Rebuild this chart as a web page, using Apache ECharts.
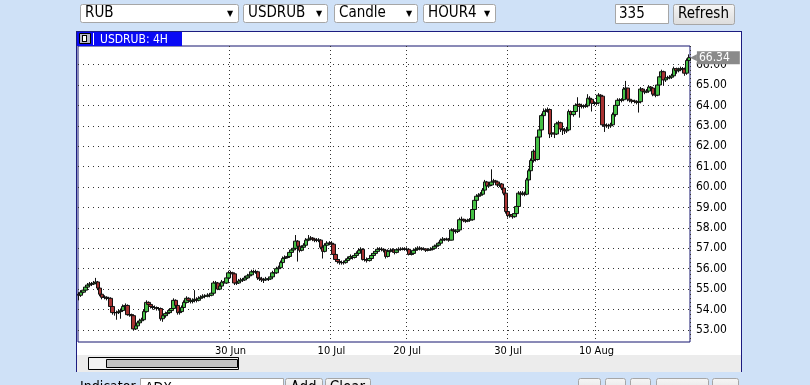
<!DOCTYPE html>
<html><head><meta charset="utf-8">
<script src="https://cdn.jsdelivr.net/npm/echarts@6/dist/echarts.min.js"></script>
<style>html,body{margin:0;padding:0;background:#cfe1f7;}#c{width:810px;height:385px;}</style>
</head><body><div id="c"></div>
<script>
// trading days (tick label texts)
const days = ['12 Jun','15 Jun','16 Jun','17 Jun','18 Jun','19 Jun','22 Jun','23 Jun','24 Jun','25 Jun','26 Jun','29 Jun',
  '30 Jun','1 Jul','2 Jul','3 Jul','6 Jul','7 Jul','8 Jul','9 Jul','10 Jul','13 Jul','14 Jul','15 Jul','16 Jul','17 Jul',
  '20 Jul','21 Jul','22 Jul','23 Jul','24 Jul','27 Jul','28 Jul','29 Jul','30 Jul','31 Jul','3 Aug','4 Aug','5 Aug','6 Aug','7 Aug',
  '10 Aug','11 Aug','12 Aug','13 Aug','14 Aug','17 Aug','18 Aug','19 Aug'];
const labeledDays = ['30 Jun','10 Jul','20 Jul','30 Jul','10 Aug'];
const yTicks = [53,54,55,56,57,58,59,60,61,62,63,64,65,66];
const firstOpen = 54.75;
const closes = [
54.70,54.85,54.95,55.10,55.20,55.25, 55.25,55.30,55.35,55.05,54.75,54.60, 54.60,54.55,54.55,54.15,53.85,53.85,
53.85,53.90,53.95,54.15,54.20,53.75, 53.75,53.70,53.05,53.20,53.35,53.45, 53.50,53.90,54.35,54.25,54.15,54.10,
54.10,54.05,54.05,53.55,53.70,53.80, 53.85,53.95,54.05,54.45,54.20,53.85, 53.90,54.10,54.35,54.55,54.45,54.40,
54.45,54.50,54.45,54.55,54.60,54.65, 54.65,54.70,54.70,54.80,55.30,55.30, 55.00,55.15,55.35,55.30,55.55,55.80,
55.80,55.75,55.30,55.30,55.40,55.45, 55.45,55.55,55.65,55.70,55.85,55.85, 55.85,55.55,55.50,55.45,55.45,55.50,
55.50,55.60,55.80,55.80,56.00,56.05, 56.30,56.50,56.55,56.60,56.80,56.92, 57.00,57.35,57.10,56.90,57.05,57.15,
57.40,57.45,57.50,57.45,57.40,57.40, 57.40,57.05,56.85,57.15,57.25,57.25, 57.20,56.70,56.45,56.35,56.30,56.30,
56.30,56.40,56.50,56.60,56.55,56.65, 56.75,56.90,56.95,56.45,56.45,56.40, 56.50,56.65,56.75,56.85,56.95,56.95,
56.95,56.90,56.60,56.85,56.90,56.92, 56.80,56.92,56.95,56.95,56.97,56.95, 56.95,56.70,56.75,56.90,56.95,57.00,
57.00,56.95,56.97,56.90,56.92,56.95, 57.00,57.10,57.15,57.25,57.40,57.45, 57.42,57.45,57.40,57.90,57.85,57.82,
57.90,58.40,58.42,58.35,58.33,58.38, 58.40,58.90,59.35,59.55,59.60,59.65, 59.85,60.25,60.05,60.10,60.25,60.30,
60.25,60.10,60.15,59.95,59.70,58.80, 58.60,58.65,58.55,58.70,59.05,59.70, 59.65,59.70,59.65,60.35,60.80,61.30,
61.75,61.35,62.45,62.80,63.50,63.70, 63.75,63.80,62.60,62.65,62.60,63.10, 63.15,62.85,62.80,62.75,62.80,63.70,
63.55,63.70,64.00,64.05,63.95,63.98, 63.95,63.98,64.35,64.30,64.10,64.10, 64.12,64.50,64.45,63.05,63.00,63.02,
63.00,63.05,63.55,64.00,64.25,64.25, 64.28,64.80,64.85,64.30,64.25,64.20, 64.20,64.15,64.18,64.80,64.70,64.65,
64.70,64.90,64.85,64.55,64.50,65.00, 65.40,65.65,65.25,65.35,65.35,65.38, 65.45,65.80,65.70,65.75,65.80,65.78,
65.58,66.20,66.34];
const highs = [
54.85,54.95,55.05,55.20,55.30,55.35, 55.35,55.40,55.55,55.40,55.10,54.85, 54.70,54.65,54.62,54.60,54.20,53.95,
53.95,54.00,54.05,54.25,54.30,54.25, 53.85,53.80,53.75,53.30,53.45,53.55, 53.60,54.00,54.45,54.40,54.30,54.20,
54.20,54.15,54.12,54.10,53.80,53.90, 53.95,54.05,54.15,54.55,54.50,54.25, 54.00,54.20,54.45,54.65,54.60,54.50,
54.55,54.95,54.60,54.65,54.70,54.75, 54.75,54.80,54.80,54.90,55.40,55.40, 55.35,55.25,55.45,55.40,55.65,55.90,
55.90,55.85,55.80,55.40,55.50,55.55, 55.55,55.65,55.75,55.80,55.95,55.95, 55.95,55.90,55.65,55.60,55.55,55.60,
55.60,55.70,55.90,55.90,56.10,56.15, 56.40,56.60,56.65,56.70,56.90,57.00, 57.10,57.65,57.40,57.15,57.15,57.25,
57.50,57.65,57.60,57.55,57.50,57.50, 57.50,57.45,57.10,57.25,57.35,57.35, 57.35,57.25,56.75,56.55,56.45,56.40,
56.40,56.50,56.60,56.70,56.65,56.75, 56.85,57.00,57.05,57.00,56.55,56.55, 56.60,56.75,56.85,56.95,57.05,57.05,
57.05,57.00,56.95,56.95,57.00,57.00, 56.95,57.00,57.05,57.05,57.05,57.05, 57.05,57.00,56.85,56.95,57.05,57.10,
57.10,57.05,57.05,57.00,57.00,57.05, 57.08,57.18,57.22,57.32,57.48,57.55, 57.50,57.52,57.50,57.98,57.95,57.92,
58.00,58.50,58.55,58.45,58.42,58.45, 58.48,59.00,59.45,59.65,59.70,59.75, 59.95,60.35,60.30,60.20,60.87,60.40,
60.35,60.30,60.25,60.20,60.00,59.75, 58.85,58.75,58.70,58.80,59.15,59.80, 59.80,59.80,59.78,60.45,60.90,61.40,
61.85,61.80,62.55,62.90,63.60,63.85, 63.85,63.90,63.85,62.80,62.75,63.20, 63.25,63.20,62.95,62.90,62.95,63.80,
63.75,63.80,64.10,64.40,64.10,64.08, 64.05,64.08,64.55,64.45,64.35,64.20, 64.20,64.60,64.55,64.50,63.15,63.12,
63.10,63.15,63.65,64.10,64.35,64.35, 64.35,64.90,65.20,64.85,64.35,64.30, 64.28,64.25,64.25,64.90,64.85,64.78,
64.80,65.00,64.95,64.90,64.60,65.10, 65.50,65.75,65.70,65.45,65.45,65.48, 65.55,65.90,65.85,65.85,65.90,65.88,
65.85,66.30,66.50];
const lows = [
54.45,54.62,54.80,54.90,55.05,55.15, 55.15,55.20,55.25,54.95,54.65,54.50, 54.50,54.45,54.45,54.05,53.75,53.70,
53.50,53.78,53.55,53.90,54.05,53.70, 53.65,53.60,53.00,53.00,53.15,53.30, 53.35,53.45,53.85,54.15,54.05,54.00,
54.00,53.95,53.95,53.45,53.40,53.60, 53.70,53.80,53.85,54.00,54.10,53.75, 53.75,53.85,54.05,54.30,54.35,54.30,
54.30,54.35,54.35,54.40,54.50,54.55, 54.55,54.60,54.60,54.65,54.75,55.15, 54.95,54.95,55.10,55.20,55.25,55.50,
55.70,55.65,55.20,55.20,55.25,55.30, 55.35,55.40,55.50,55.55,55.65,55.75, 55.75,55.45,55.40,55.35,55.30,55.40,
55.40,55.45,55.55,55.70,55.75,55.95, 56.00,56.25,56.45,56.50,56.55,56.75, 56.85,56.95,56.35,56.80,56.85,57.00,
57.10,57.35,57.40,57.35,57.30,57.30, 57.30,56.95,56.50,56.80,57.10,57.15, 57.10,56.60,56.35,56.25,56.20,56.20,
56.20,56.25,56.35,56.45,56.45,56.50, 56.60,56.70,56.85,56.40,56.35,56.30, 56.35,56.45,56.60,56.70,56.80,56.85,
56.85,56.80,56.50,56.55,56.80,56.82, 56.70,56.75,56.85,56.88,56.90,56.88, 56.85,56.65,56.65,56.70,56.85,56.90,
56.90,56.88,56.90,56.82,56.85,56.88, 56.90,56.98,57.05,57.10,57.20,57.35, 57.35,57.38,57.32,57.38,57.75,57.72,
57.75,57.85,58.32,58.28,58.25,58.28, 58.30,58.35,58.85,59.30,59.45,59.55, 59.60,59.80,59.95,60.00,60.05,60.15,
60.15,60.00,60.00,59.85,59.60,58.70, 58.50,58.50,58.45,58.50,58.65,59.00, 59.55,59.58,59.55,59.60,60.30,60.35,
61.20,61.25,61.30,62.40,62.75,63.45, 63.60,63.65,62.40,62.45,62.40,62.55, 63.00,62.70,62.55,62.60,62.65,62.75,
63.40,63.45,63.60,63.90,63.40,63.85, 63.85,63.88,63.90,64.15,63.70,64.00, 64.00,64.05,64.30,62.95,62.70,62.90,
62.85,62.90,63.00,63.45,63.90,64.15, 64.15,64.20,64.70,64.20,64.15,64.10, 64.10,64.05,63.65,64.10,64.60,64.55,
64.60,64.62,64.75,64.45,64.40,64.45, 64.95,65.30,64.95,65.15,65.25,65.28, 65.30,65.40,65.55,65.62,65.68,65.65,
65.45,65.50,66.10];

const categories = closes.map((_, i) => days[Math.floor(i / 6)] + ' ' + String((i % 6) * 4).padStart(2, '0') + ':00');
const ohlc = closes.map((c, i) => {
  const o = i ? closes[i - 1] : firstOpen;
  return [o, c, Math.min(lows[i], o, c), Math.max(highs[i], o, c)];
});
const showTick = (idx, val) => val.endsWith(' 00:00') && labeledDays.includes(val.slice(0, -6));
const NARROW = "'Liberation Sans Narrow','DejaVu Sans Condensed',sans-serif";

function selectBox(x, w, text) {
  return [
    {type:'rect', shape:{x:x+0.5, y:4.5, width:w, height:18, r:2}, style:{fill:'#fff', stroke:'#a6a6a6'}, z:20},
    {type:'text', x:x+5, y:13.5, style:{text:text, fill:'#000', font:'15px ' + NARROW, textVerticalAlign:'middle'}, z:21},
    {type:'text', x:x+w-8, y:13.5, style:{text:'▼', fill:'#000', font:'8px DejaVu Sans', textAlign:'center', textVerticalAlign:'middle'}, z:21}
  ];
}
function button(x, y, w, h, text) {
  const arr = [{type:'rect', shape:{x:x+0.5, y:y+0.5, width:w, height:h, r:2},
    style:{fill:new echarts.graphic.LinearGradient(0,0,0,1,[{offset:0,color:'#f6f6f6'},{offset:1,color:'#dcdcdc'}]), stroke:'#a6a6a6'}, z:20}];
  if (text) arr.push({type:'text', x:x+w/2, y:y+h/2+0.5, style:{text:text, fill:'#000', font:'15px ' + NARROW, textAlign:'center', textVerticalAlign:'middle'}, z:21});
  return arr;
}

const graphics = [].concat(
  // chart container
  [{type:'rect', shape:{x:76.5, y:31.5, width:665, height:360}, style:{fill:'#fff', stroke:'#1c1c80', lineWidth:1}, z:-10},
   {type:'rect', shape:{x:77, y:355, width:664, height:17}, style:{fill:'#ececec'}, z:-9},
   {type:'rect', shape:{x:0, y:372, width:810, height:13}, style:{fill:'#cfe1f7'}, z:-8},
   {type:'line', shape:{x1:76.5, y1:31, x2:76.5, y2:372}, style:{stroke:'#1c1c80', lineWidth:1}, z:-7},
   {type:'line', shape:{x1:741.5, y1:31, x2:741.5, y2:372}, style:{stroke:'#1c1c80', lineWidth:1}, z:-7},
   // scrollbar
   {type:'rect', shape:{x:88.5, y:357.5, width:150, height:12}, style:{fill:'#f2f2f2', stroke:'#000', lineWidth:1}, z:5},
   {type:'rect', shape:{x:106.5, y:359.5, width:131, height:8}, style:{fill:'#c3c3c3', stroke:'#000', lineWidth:1}, z:6},
   // title tab
   {type:'rect', shape:{x:77, y:32, width:105, height:14}, style:{fill:'#0a0af5'}, z:10},
   {type:'rect', shape:{x:79.5, y:33.5, width:11, height:10}, style:{fill:'#b8b8c8', stroke:'#000', lineWidth:1}, z:11},
   {type:'rect', shape:{x:82, y:35, width:5, height:7}, style:{fill:'#000'}, z:12},
   {type:'rect', shape:{x:83, y:36, width:3, height:5}, style:{fill:'#fff'}, z:13},
   {type:'line', shape:{x1:93.5, y1:33, x2:93.5, y2:45}, style:{stroke:'#fff', lineWidth:1}, z:11},
   {type:'text', x:100, y:39.5, style:{text:'USDRUB: 4H', fill:'#fff', font:'12px ' + NARROW, textVerticalAlign:'middle'}, z:11}],
  selectBox(80, 158, 'RUB'),
  selectBox(243, 84, 'USDRUB'),
  selectBox(334, 83, 'Candle'),
  selectBox(423, 72, 'HOUR4'),
  [{type:'rect', shape:{x:615.5, y:4.5, width:53, height:19}, style:{fill:'#fff', stroke:'#a6a6a6'}, z:20},
   {type:'text', x:619, y:14.5, style:{text:'335', fill:'#000', font:'15px ' + NARROW, textVerticalAlign:'middle'}, z:21}],
  button(673, 4, 61, 20, 'Refresh'),
  // bottom controls row (cut off by the window)
  [{type:'text', x:80, y:380, style:{text:'Indicator', fill:'#000', font:'14px ' + NARROW, textVerticalAlign:'top'}, z:21},
   {type:'rect', shape:{x:140.5, y:378.5, width:143, height:18}, style:{fill:'#fff', stroke:'#a6a6a6'}, z:20},
   {type:'text', x:145, y:381, style:{text:'ADX', fill:'#000', font:'14px ' + NARROW, textVerticalAlign:'top'}, z:21}],
  button(285, 378, 37, 20, 'Add'),
  button(325, 378, 45, 20, 'Clear'),
  button(578, 378, 22, 20, ''),
  button(605, 378, 20, 20, ''),
  button(630, 378, 20, 20, ''),
  button(656, 378, 52, 20, ''),
  button(712, 378, 26, 20, '')
);

const chart = echarts.init(document.getElementById('c'), null, {renderer:'canvas'});
chart.setOption({
  backgroundColor: '#cfe1f7',
  animation: false,
  graphic: graphics,
  grid: {left:78, top:46, width:612, height:296, show:true, backgroundColor:'#fff', borderColor:'#14146e', borderWidth:1},
  xAxis: {
    type:'category', data:categories, boundaryGap:true,
    axisLine:{show:false}, axisTick:{show:false},
    axisLabel:{interval:showTick, formatter:v => v.slice(0, -6), color:'#000', fontSize:11, margin:4, fontFamily:NARROW},
    splitLine:{show:true, interval:showTick, lineStyle:{color:'#333', width:1, type:[1,3]}}
  },
  yAxis: {
    type:'value', position:'right', min:52.41, max:66.91,
    axisLine:{show:false},
    axisTick:{show:false, customValues:yTicks},
    axisLabel:{customValues:yTicks, formatter:v => v.toFixed(2), color:'#000', fontSize:12, margin:6, fontFamily:NARROW},
    splitLine:{show:true, lineStyle:{color:'#333', width:1, type:[1,4]}}
  },
  series: [{
    type:'candlestick', data:ohlc, barWidth:4,
    itemStyle:{color:'#45c045', color0:'#a83232', borderColor:'#111', borderColor0:'#111', borderWidth:1},
    markLine:{
      silent:true, symbol:['none','none'], animation:false,
      lineStyle:{color:'transparent', width:0},
      data:[{yAxis: closes[closes.length - 1]}],
      label:{show:true, position:'end', distance:0,
        formatter: p => '{a|◀}{b|' + p.value.toFixed(2) + '}',
        rich:{
          a:{color:'#8a8a8a', fontSize:9, fontFamily:'DejaVu Sans'},
          b:{color:'#fff', backgroundColor:'#8a8a8a', fontSize:12, fontFamily:NARROW, padding:[1,10,0,2], lineHeight:13}
        }}
    }
  }]
});
</script></body></html>
